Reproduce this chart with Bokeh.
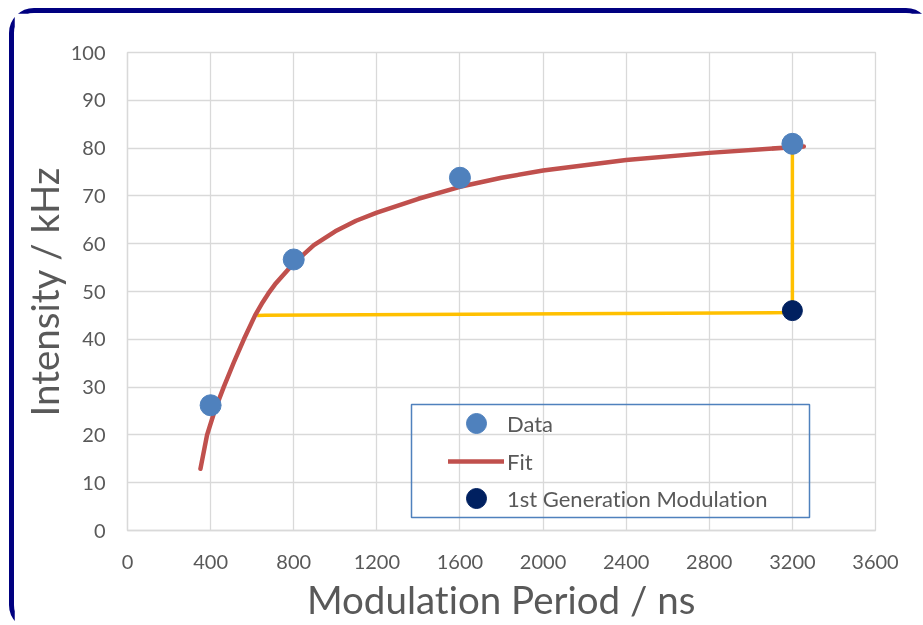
from bokeh.plotting import figure
from bokeh.models import Range1d, FixedTicker, Legend, LegendItem, BoxAnnotation, InlineStyleSheet
from bokeh.embed import file_html
from bokeh.resources import INLINE

# ---- data ----
data_x = [400, 800, 1600, 3200]
data_y = [26.2, 56.7, 73.8, 80.9]

fit_x = [351, 383, 420, 463, 512, 560, 614, 650, 678, 710, 740, 800, 897, 1000, 1100, 1200,
         1400, 1600, 1800, 2000, 2400, 2800, 3200, 3255]
fit_y = [12.9, 20.0, 25.1, 30.0, 35.2, 40.0, 45.0, 47.7, 49.6, 51.5, 53.0, 55.9, 59.7, 62.6, 64.8, 66.5,
         69.4, 71.9, 73.8, 75.3, 77.5, 79.0, 80.2, 80.35]

gen_x = [3200]
gen_y = [46.0]

guide_x = [624, 3200, 3200]
guide_y = [45.0, 45.6, 80.5]

x_ticks = [0, 400, 800, 1200, 1600, 2000, 2400, 2800, 3200, 3600]
y_ticks = [0, 10, 20, 30, 40, 50, 60, 70, 80, 90, 100]

legend_labels = ["Data", "Fit", "1st Generation Modulation"]

FONT = "Lato"
TXT = "#595959"
GRID = "#D9D9D9"

p = figure(frame_width=748, frame_height=478,
           x_range=Range1d(0, 3600), y_range=Range1d(0, 100),
           output_backend="svg", toolbar_location=None,
           min_border_left=113, min_border_top=39, min_border_right=51, min_border_bottom=95)

p.stylesheets = [InlineStyleSheet(css=":host { position: fixed !important; left: 9px; top: 8px; "
                                      "border: 5px solid #000080; border-radius: 25px; "
                                      "text-rendering: optimizeSpeed; "
                                      "font-variant-ligatures: none; font-feature-settings: 'liga' 0, 'clig' 0; }")]
p.background_fill_color = "white"
p.border_fill_color = "white"
p.outline_line_color = GRID
p.outline_line_width = 1.3

for ax, ticks in ((p.xaxis, x_ticks), (p.yaxis, y_ticks)):
    ax.ticker = FixedTicker(ticks=ticks)
    ax.axis_line_color = GRID
    ax.axis_line_width = 1.3
    ax.major_tick_line_color = None
    ax.minor_tick_line_color = None
    ax.major_tick_in = 0
    ax.major_tick_out = 0
    ax.major_label_text_font = FONT
    ax.major_label_text_font_size = "20px"
    ax.major_label_text_color = TXT
    ax.axis_label_text_font = FONT
    ax.axis_label_text_font_size = "38.5px"
    ax.axis_label_text_font_style = "normal"
    ax.axis_label_text_color = TXT

p.xaxis.axis_label = "Modulation Period / ns"
p.yaxis.axis_label = "Intensity / kHz"
p.xaxis.major_label_standoff = 24
p.yaxis.major_label_standoff = 22
p.xaxis.axis_label_standoff = 4
p.yaxis.axis_label_standoff = 1

p.xgrid.ticker = FixedTicker(ticks=x_ticks)
p.ygrid.ticker = FixedTicker(ticks=y_ticks)
p.grid.grid_line_color = GRID
p.grid.grid_line_width = 1.3

p.line(guide_x, guide_y, line_color="#FFC000", line_width=3.5)
r_fit = p.line(fit_x, fit_y, line_color="#C0504D", line_width=4.5, line_cap="round", line_join="round")
r_data = p.scatter(data_x, data_y, size=21, fill_color="#4F81BD", line_color="#4F81BD")
r_gen = p.scatter(gen_x, gen_y, size=20, fill_color="#002060", line_color="#002060")

# one legend per row so the row pitch and the marker size can both match
for label, rend, bottom in zip(legend_labels, [r_data, r_fit, r_gen], [82, 44, 7]):
    lg = Legend(items=[LegendItem(label=label, renderers=[rend])],
                location=(321, bottom), padding=0, margin=0, spacing=0,
                glyph_width=56, glyph_height=50, label_height=50, label_standoff=3,
                border_line_alpha=0, background_fill_alpha=0,
                label_text_font=FONT, label_text_font_size="22px", label_text_color=TXT)
    p.add_layout(lg, "center")

box = BoxAnnotation(left=284, right=682, top=126, bottom=13,
                    left_units="screen", right_units="screen", top_units="screen", bottom_units="screen",
                    fill_alpha=0, line_color="#4F81BD", line_alpha=1.0, line_width=1.5)
p.add_layout(box)

open("out.html", "w").write(file_html(p, INLINE))
